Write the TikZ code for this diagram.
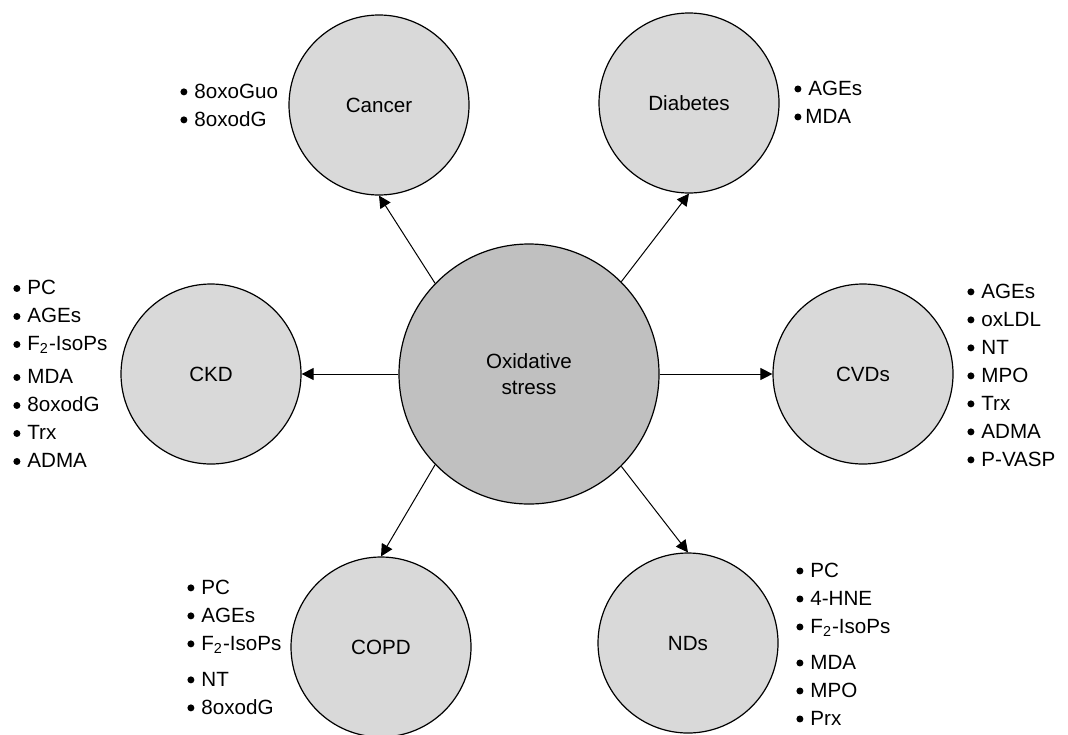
\documentclass[tikz,border=0pt]{standalone}
\usepackage{fontspec}
\setmainfont{Liberation Sans}
\usepackage{tikz}
\usetikzlibrary{arrows.meta, positioning}

\definecolor{outergray}{RGB}{217,217,217}
\definecolor{innergray}{RGB}{192,192,192}
\newcommand{\dotmark}{\raisebox{0.25ex}{\tikz\fill (0,0) circle (1.75pt);}}
\newcommand{\itm}{\dotmark\hspace{3.5pt}}
\newcommand{\Ftwo}{F\textsubscript{2}-IsoPs}

\begin{document}
\begin{tikzpicture}[x=0.5pt, y=-0.5pt, >={Triangle[length=6pt,width=6pt]}, line width=0.5pt,
		disease/.style={circle, draw, line width=0.6pt, fill=outergray, minimum size=90pt, inner sep=0pt, font=\fontsize{10.3}{12}\selectfont},
		stress/.style={circle, draw, line width=0.6pt, fill=innergray, minimum size=130pt, inner sep=0pt, align=center, font=\fontsize{10.3}{13}\selectfont},
		markers/.style={anchor=west, inner sep=0pt, align=left, font=\fontsize{10.3}{14}\selectfont}]
		\useasboundingbox (0,0) rectangle (1068,734);

		\node[stress] (ox) at (529,374) {Oxidative\\stress};

		\node[disease] (cancer) at (379,105) {Cancer}; \node[markers] (cancerlist) at (180,105) {\itm 8oxoGuo\\ \itm 8oxodG};
		\node[disease] (diab) at (689,103) {Diabetes}; \node[markers] (diablist) at (794,102) {\itm AGEs\\ \dotmark\hspace{2pt}MDA};

		\node[disease] (ckd) at (211,374) {CKD};
		\node[markers] (ckdlist) at (13,374) {\itm PC\\ \itm AGEs\\ \itm \Ftwo\\[2.5pt] \itm MDA\\ \itm 8oxodG\\ \itm Trx\\ \itm ADMA};
		\node[disease] (cvd) at (863,374) {CVDs};
		\node[markers] (cvdlist) at (967,375) {\itm AGEs\\ \itm oxLDL\\ \itm NT\\ \itm MPO\\ \itm Trx\\ \itm ADMA\\ \itm P-VASP};

		\node[disease] (copd) at (381,647) {COPD};
		\node[markers] (copdlist) at (187,647) {\itm PC\\ \itm AGEs\\ \itm \Ftwo\\[4pt] \itm NT\\ \itm 8oxodG};
		\node[disease] (nd) at (688,643) {NDs};
		\node[markers] (ndlist) at (796,644) {\itm PC\\ \itm 4-HNE\\ \itm \Ftwo\\[4pt] \itm MDA\\ \itm MPO\\ \itm Prx};

		\draw[->] (ox.136) -- (cancer.south); \draw[->] (ox.45) -- (diab.south);
		\draw[->] (ox.west) -- (ckd.east); \draw[->] (ox.east) -- (cvd.west);
		\draw[->] (ox.224) -- (copd.north); \draw[->] (ox.315) -- (nd.north);
	\end{tikzpicture}
\end{document}
